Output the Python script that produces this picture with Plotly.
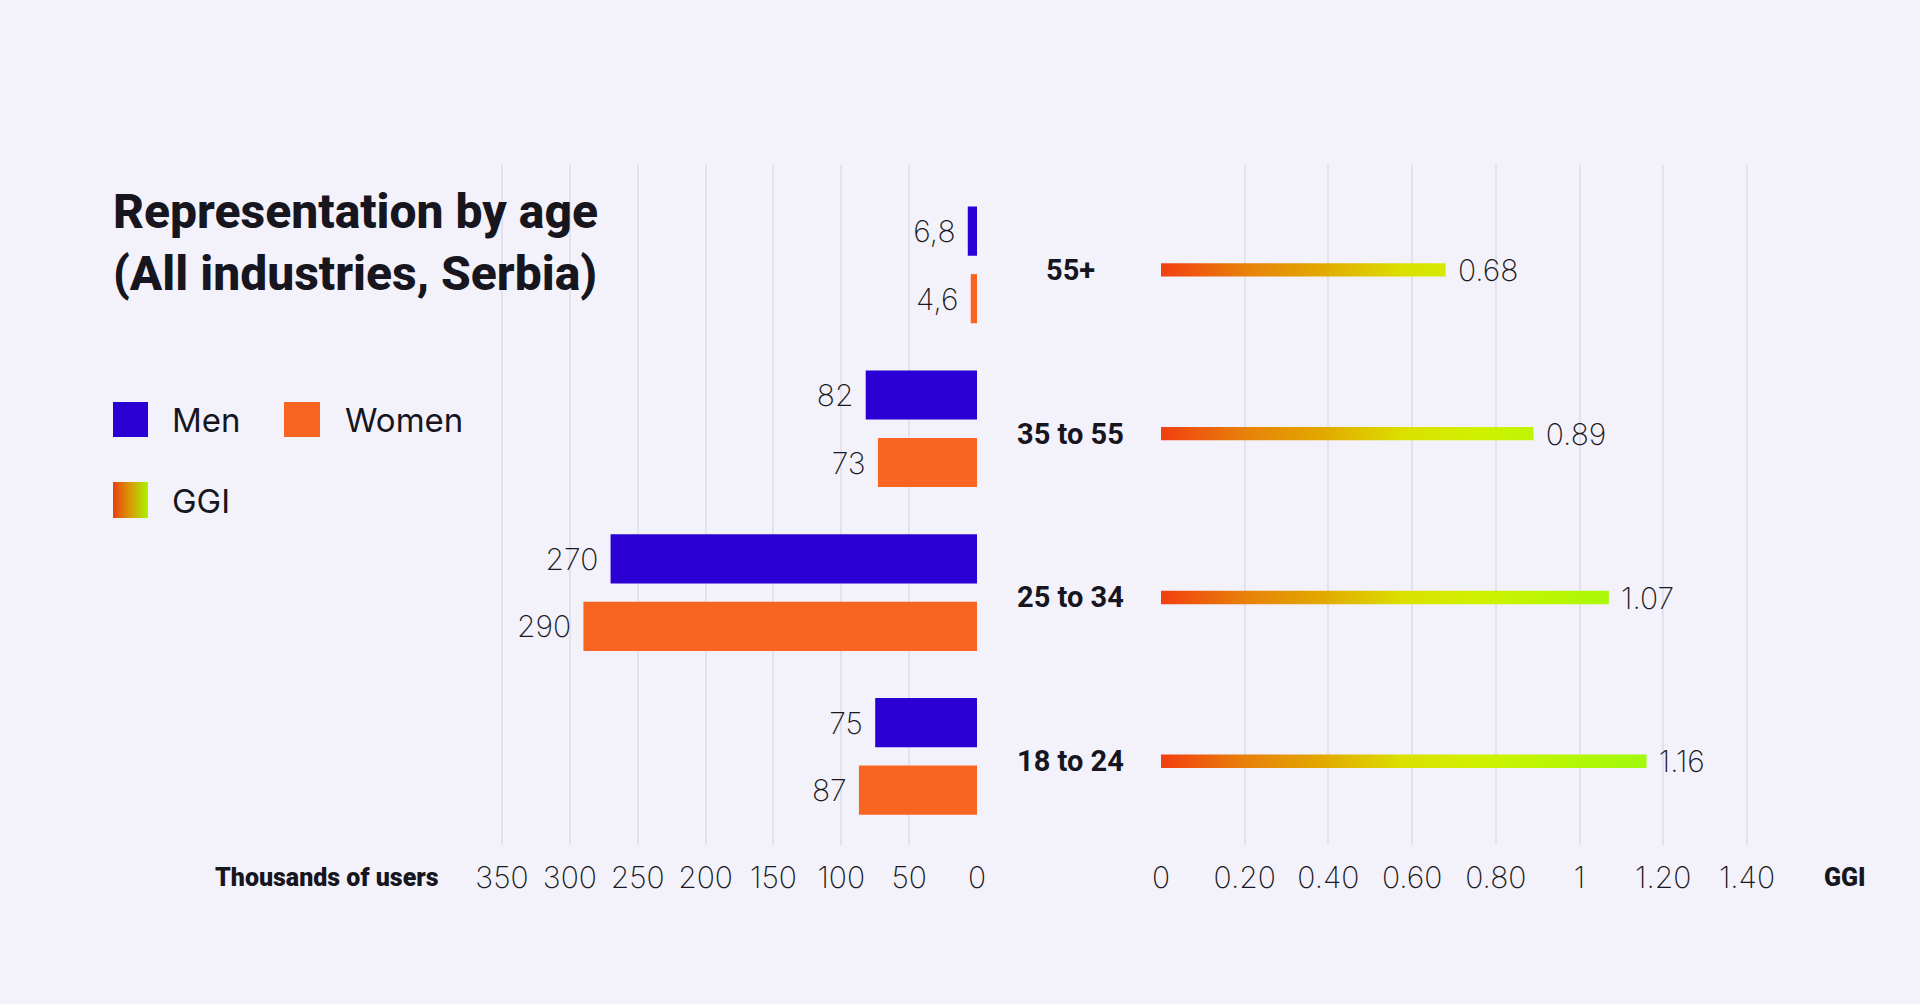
import plotly.graph_objects as go

# --------- DATA ---------
AGE_GROUPS = ["18 to 24", "25 to 34", "35 to 55", "55+"]   # bottom -> top
MEN = [75, 270, 82, 6.8]          # thousands of users
WOMEN = [87, 290, 73, 4.6]        # thousands of users
GGI = [1.16, 1.07, 0.89, 0.68]    # gender gap index

USER_TICKS = [0, 50, 100, 150, 200, 250, 300, 350]
GGI_TICKS = [0, 0.2, 0.4, 0.6, 0.8, 1.0, 1.2, 1.4]
GGI_TICK_TEXT = ["0", "0.20", "0.40", "0.60", "0.80", "1", "1.20", "1.40"]

# --------- STYLE ---------
BG = "#F3F2FB"
GRID = "#E3E1EC"
MEN_COLOR = "#2B00D4"
WOMEN_COLOR = "#F76520"
TEXT = "#17161E"
GGI_SCALE = [[0.0, "#F23E10"], [0.17, "#E8800A"], [0.33, "#E2A800"], [0.5, "#DCE000"],
             [0.66, "#CFF200"], [0.84, "#B4F704"], [1.0, "#A0F90E"]]
THIN = dict(family="Inter, Roboto, sans-serif", size=30, color="#1A1922", weight=200)
BOLD = "Roboto, Inter, sans-serif"

W, H = 1920, 1004
ypos = list(range(len(AGE_GROUPS)))
BAR_W = 0.3
GGI_HALF = 0.041
TXT_DY = 0.022   # scatter text sits a little high; nudge it onto the bar centre


def px(x):
    return x / W


def py(y):
    return 1 - y / H


fig = go.Figure()

# ----- left panel: users by gender -----
fig.add_trace(go.Bar(
    x=MEN, y=ypos, orientation="h", width=BAR_W, offset=0.056,
    marker=dict(color=MEN_COLOR, line_width=0), name="Men", hoverinfo="skip",
))
fig.add_trace(go.Bar(
    x=WOMEN, y=ypos, orientation="h", width=BAR_W, offset=-0.356,
    marker=dict(color=WOMEN_COLOR, line_width=0), name="Women", hoverinfo="skip",
))
fig.add_trace(go.Scatter(
    x=MEN + WOMEN,
    y=[y + 0.206 - TXT_DY for y in ypos] + [y - 0.206 - TXT_DY for y in ypos],
    mode="markers+text",
    text=[f"{v:g}".replace(".", ",") for v in MEN + WOMEN],
    textposition="middle left", textfont=THIN,
    marker=dict(size=18, color="rgba(0,0,0,0)"), hoverinfo="skip", cliponaxis=False,
))

# ----- right panel: GGI gradient bars -----
for y, v in zip(ypos, GGI):
    fig.add_trace(go.Scatter(
        x=[0, v, v, 0, 0],
        y=[y - GGI_HALF, y - GGI_HALF, y + GGI_HALF, y + GGI_HALF, y - GGI_HALF],
        xaxis="x2", yaxis="y2", mode="lines", line_width=0, fill="toself",
        fillgradient=dict(type="horizontal", colorscale=GGI_SCALE, start=0, stop=1.16),
        hoverinfo="skip",
    ))
fig.add_trace(go.Scatter(
    x=GGI, y=[y - TXT_DY for y in ypos], xaxis="x2", yaxis="y2", mode="markers+text",
    text=[f"{v:.2f}" for v in GGI], textposition="middle right", textfont=THIN,
    marker=dict(size=18, color="rgba(0,0,0,0)"), hoverinfo="skip", cliponaxis=False,
))

# age labels between the panels
for y, lab in zip(ypos, AGE_GROUPS):
    fig.add_annotation(x=px(1070), xref="paper", y=y, yref="y2", text=lab,
                       showarrow=False, xanchor="center",
                       font=dict(family=BOLD, size=29, color=TEXT, weight=700))

# ----- legend (drawn by hand) -----
fig.add_shape(type="rect", xref="paper", yref="paper", x0=px(113), x1=px(148),
              y0=py(437), y1=py(402), fillcolor=MEN_COLOR, line_width=0)
fig.add_shape(type="rect", xref="paper", yref="paper", x0=px(284), x1=px(320),
              y0=py(437), y1=py(402), fillcolor=WOMEN_COLOR, line_width=0)
fig.add_trace(go.Scatter(
    x=[0, 1, 1, 0, 0], y=[0, 0, 1, 1, 0], xaxis="x3", yaxis="y3",
    mode="lines", line_width=0, fill="toself",
    fillgradient=dict(type="horizontal",
                      colorscale=[[0, "#E8400F"], [0.5, "#D89A05"], [1, "#A8F500"]]),
    hoverinfo="skip",
))
for x, yy, lab in [(170, 420, "Men"), (343, 420, "Women"), (170, 501, "GGI")]:
    fig.add_annotation(x=px(x), y=py(yy), xref="paper", yref="paper", text=lab,
                       showarrow=False, xanchor="left", yanchor="middle",
                       font=dict(family="Inter, Roboto, sans-serif", size=33,
                                 color=TEXT, weight=400))

# title
fig.add_annotation(
    x=px(111), y=py(242), xref="paper", yref="paper", xanchor="left", yanchor="middle",
    text="Representation by age<br>(All industries, Serbia)", align="left", showarrow=False,
    font=dict(family=BOLD, size=48, color=TEXT, weight=800),
)

# axis titles
fig.add_annotation(x=px(441), y=py(877), xref="paper", yref="paper", xanchor="right",
                   yanchor="middle", text="Thousands of users", showarrow=False,
                   font=dict(family=BOLD, size=25, color=TEXT, weight=900))
fig.add_annotation(x=px(1822), y=py(877), xref="paper", yref="paper", xanchor="left",
                   yanchor="middle", text="GGI", showarrow=False,
                   font=dict(family=BOLD, size=25, color=TEXT, weight=900))

Y_DOM = [py(845), py(165)]
axis_common = dict(showgrid=True, gridcolor=GRID, gridwidth=1.5, zeroline=True,
                   zerolinecolor=BG, zerolinewidth=3, showline=False, ticks="outside",
                   ticklen=6, tickcolor="rgba(0,0,0,0)", tickfont=THIN, fixedrange=True)

fig.update_layout(
    width=W, height=H, margin=dict(l=0, r=0, t=0, b=0, autoexpand=False),
    paper_bgcolor=BG, plot_bgcolor=BG, showlegend=False, barmode="overlay",
    xaxis=dict(domain=[px(977 - 355 * 475 / 350), px(977)], range=[355, 0],
               tickmode="array", tickvals=USER_TICKS, anchor="y", **axis_common),
    yaxis=dict(domain=Y_DOM, range=[-0.541, 3.610], visible=False, fixedrange=True),
    xaxis2=dict(domain=[px(1161), px(1161 + 1.42 * (1747 - 1161) / 1.4)], range=[0, 1.42],
                tickmode="array", tickvals=GGI_TICKS, ticktext=GGI_TICK_TEXT,
                anchor="y2", **axis_common),
    yaxis2=dict(domain=Y_DOM, range=[-0.511, 3.640], visible=False, fixedrange=True),
    xaxis3=dict(domain=[px(113), px(148)], range=[0, 1], visible=False, anchor="y3"),
    yaxis3=dict(domain=[py(518), py(482)], range=[0, 1], visible=False, anchor="x3"),
)

# drop the default page margin so the figure fills the window edge to edge
fig.write_html("out.html", config={"displayModeBar": False},
               post_script="document.body.style.margin='0';")
